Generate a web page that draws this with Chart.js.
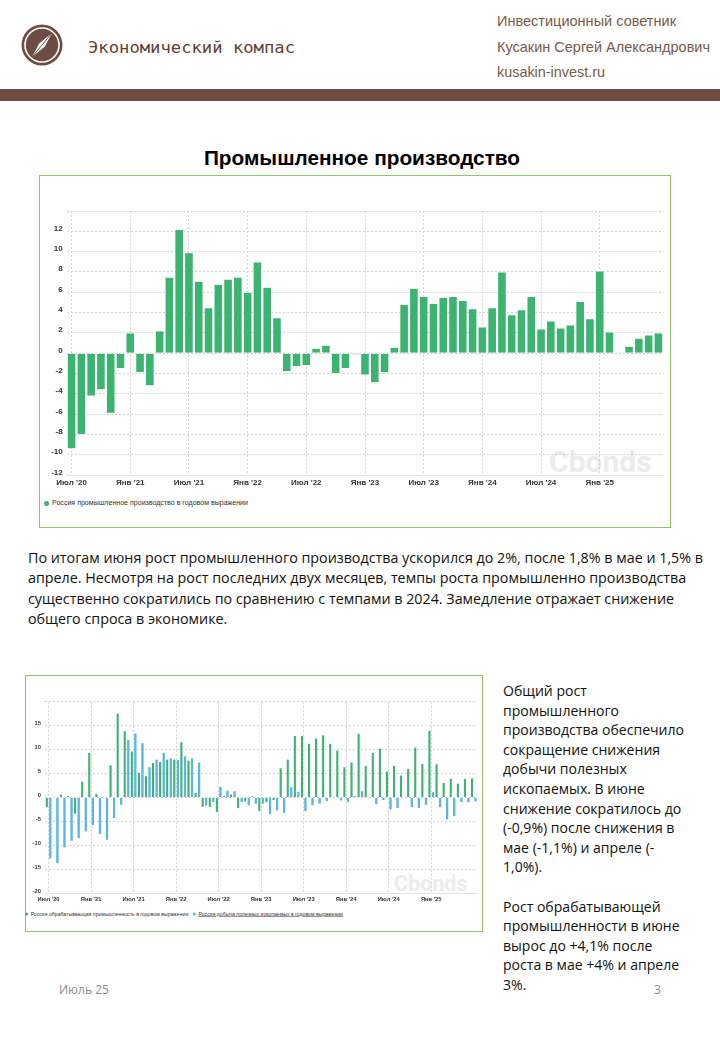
<!DOCTYPE html>
<html lang="ru">
<head>
<meta charset="utf-8">
<title>Промышленное производство</title>
<script src="https://cdn.jsdelivr.net/npm/chart.js@4.4.1/dist/chart.umd.min.js"></script>
<style>
  html, body { margin: 0; padding: 0; background: #fff; }
  body { width: 720px; height: 1040px; position: relative; overflow: hidden;
         font-family: 'Liberation Sans', Arial, sans-serif; }
  .abs { position: absolute; white-space: nowrap; }
  .fit { display: inline-block; transform-origin: 0 50%; }
  .hdr { color: #77594d; font-size: 15px; line-height: 20px; }
  .txt { font-family: 'Open Sans', 'Noto Sans', sans-serif; font-size: 14px; color: #111; transform-origin: 0 0; }
  .txt span { display: block; white-space: nowrap; }
  .box { position: absolute; border: 1.5px solid #8fc46a; box-sizing: border-box; }
  .wrap { position: absolute; z-index: 1; }
  .wm { position: absolute; font-family: Roboto, 'Liberation Sans', sans-serif; font-weight: bold;
        color: #ececec; z-index: 0; line-height: 1; }
  .dot { display: inline-block; border-radius: 50%; vertical-align: middle; }
</style>
</head>
<body>

<svg width="42" height="42" viewBox="0 0 42 42" style="position:absolute;left:21px;top:24px">
  <circle cx="21" cy="21" r="20.5" fill="#6d4c41"/>
  <circle cx="21" cy="21" r="17" fill="none" stroke="#fff" stroke-width="1.6"/>
  <polygon points="31,9 23.8,22.6 11,33 18.2,19.4" fill="#fff"/>
  <line x1="31" y1="9" x2="11" y2="33" stroke="#6d4c41" stroke-width="1"/>
</svg>
<div class="abs" style="left:88px;top:37px;line-height:22px;">
  <span class="fit" data-w="207" style="font-family:'DejaVu Sans Mono',monospace;font-size:16px;color:#5f4137;">Экономический компас</span>
</div>
<div class="abs hdr" style="left:497px;top:11px;"><span class="fit" data-w="179">Инвестиционный советник</span></div>
<div class="abs hdr" style="left:497px;top:37px;"><span class="fit" data-w="213">Кусакин Сергей Александрович</span></div>
<div class="abs hdr" style="left:497px;top:62px;"><span class="fit" data-w="108">kusakin-invest.ru</span></div>
<div class="abs" style="left:0;top:89px;width:720px;height:12px;background:#6d4c41;"></div>

<div class="abs" style="left:2px;top:145px;width:720px;text-align:center;font-weight:bold;font-size:20.8px;line-height:26px;color:#000;">Промышленное производство</div>

<!-- top chart -->
<div class="box" style="left:39px;top:175px;width:632px;height:353px;"></div>
<div class="wm" style="left:549px;top:447px;font-size:30px;">Cbonds</div>
<div class="wrap" style="left:40px;top:177px;width:628px;height:349px;"><canvas id="chartTop"></canvas></div>
<div class="abs" style="left:44px;top:494px;line-height:12px;">
  <span class="fit" data-w="204" data-uniform="1" style="font-size:7px;color:#333;"><span class="dot" style="width:5px;height:5px;background:#3cb371;margin-right:3px;"></span>Россия промышленное производство в годовом выражении</span>
</div>

<div class="abs txt" id="para1" data-ref="0" data-refw="675" style="left:28px;top:548px;line-height:20.3px;">
  <span>По итогам июня рост промышленного производства ускорился до 2%, после 1,8% в мае и 1,5% в</span>
  <span>апреле. Несмотря на рост последних двух месяцев, темпы роста промышленно производства</span>
  <span>существенно сократились по сравнению с темпами в 2024. Замедление отражает снижение</span>
  <span>общего спроса в экономике.</span>
</div>

<!-- bottom chart -->
<div class="box" style="left:25px;top:675px;width:458px;height:257px;"></div>
<div class="wm" style="left:394px;top:873px;font-size:21.5px;">Cbonds</div>
<div class="wrap" style="left:27px;top:677px;width:454px;height:253px;"><canvas id="chartBottom"></canvas></div>
<div class="abs" style="left:25px;top:905px;line-height:14px;">
  <span class="fit" data-w="318" data-uniform="1" style="font-size:10px;color:#333;"><span class="dot" style="width:6px;height:6px;background:#3cb371;margin-right:5px;"></span>Россия обрабатывающая промышленность в годовом выражении<span class="dot" style="width:6px;height:6px;background:#5bb5e6;margin-left:9px;margin-right:5px;"></span><u>Россия добыча полезных ископаемых в годовом выражении</u></span>
</div>

<div class="abs txt" id="para2" data-ref="2" data-refw="181" style="left:503px;top:681px;line-height:19.6px;">
  <span>Общий рост</span>
  <span>промышленного</span>
  <span>производства обеспечило</span>
  <span>сокращение снижения</span>
  <span>добычи полезных</span>
  <span>ископаемых. В июне</span>
  <span>снижение сократилось до</span>
  <span>(-0,9%) после снижения в</span>
  <span>мае (-1,1%) и апреле (-</span>
  <span>1,0%).</span>
  <span>&nbsp;</span>
  <span>Рост обрабатывающей</span>
  <span>промышленности в июне</span>
  <span>вырос до +4,1% после</span>
  <span>роста в мае +4% и апреле</span>
  <span>3%.</span>
</div>

<div class="abs" style="left:59px;top:983px;font-size:12px;line-height:14px;color:#8a8a8a;font-family:'Open Sans',sans-serif;">Июль 25</div>
<div class="abs" style="left:654px;top:983px;font-size:12px;line-height:14px;color:#8a8a8a;font-family:'Open Sans',sans-serif;">3</div>

<script>
// подписи месяцев (по оси Cbonds)
const months = [
  "Июл '20", "Авг '20", "Сен '20", "Окт '20", "Ноя '20", "Дек '20",
  "Янв '21", "Фев '21", "Мар '21", "Апр '21", "Май '21", "Июн '21", "Июл '21", "Авг '21", "Сен '21", "Окт '21", "Ноя '21", "Дек '21",
  "Янв '22", "Фев '22", "Мар '22", "Апр '22", "Май '22", "Июн '22", "Июл '22", "Авг '22", "Сен '22", "Окт '22", "Ноя '22", "Дек '22",
  "Янв '23", "Фев '23", "Мар '23", "Апр '23", "Май '23", "Июн '23", "Июл '23", "Авг '23", "Сен '23", "Окт '23", "Ноя '23", "Дек '23",
  "Янв '24", "Фев '24", "Мар '24", "Апр '24", "Май '24", "Июн '24", "Июл '24", "Авг '24", "Сен '24", "Окт '24", "Ноя '24", "Дек '24",
  "Янв '25", "Фев '25", "Мар '25", "Апр '25", "Май '25", "Июн '25", "Июл '25"
];
const tickLabels = ["Июл '20", "Янв '21", "Июл '21", "Янв '22", "Июл '22", "Янв '23", "Июл '23", "Янв '24", "Июл '24", "Янв '25"];

// промышленное производство, % г/г
const industry = [
  -9.4, -8.0, -4.2, -3.6, -5.9, -1.5, 2.0, -1.9, -3.2, 2.2,
  7.5, 12.2, 9.9, 7.1, 4.5, 6.8, 7.3, 7.5, 6.0, 9.0,
  6.5, 3.5, -1.8, -1.3, -1.2, 0.5, 0.8, -2.0, -1.5, -0.15,
  -2.15, -2.9, -1.9, 0.6, 4.8, 6.4, 5.6, 4.9, 5.5, 5.6,
  5.2, 4.4, 2.6, 4.5, 8.0, 3.8, 4.3, 5.6, 2.4, 3.2,
  2.5, 2.8, 5.1, 3.4, 8.1, 2.1, 0.1, 0.7, 1.5, 1.8, 2.0
];
// обрабатывающая промышленность, % г/г
const manufacturing = [
  -2.1, 0.2, 0.7, 0.4, -3.5, 3.4, 9.4, 0.8, -0.2, 6.8,
  17.6, 13.9, 9.7, 5.2, 4.5, 7.3, 7.5, 8.0, 8.0, 11.6,
  7.8, 1.0, -2.0, -2.1, -3.1, 0.4, 0.7, -2.3, -0.9, 0.3,
  -2.9, -1.1, -0.6, 6.2, 8.0, 12.9, 12.9, 11.3, 12.4, 13.1,
  11.3, 9.9, 6.4, 7.4, 13.4, 6.7, 9.4, 10.3, 5.5, 6.7,
  4.7, 6.1, 10.5, 7.1, 14.0, 7.0, 3.1, 4.0, 3.0, 4.0, 4.1
];
// добыча полезных ископаемых, % г/г
const mining = [
  -12.8, -13.8, -10.5, -9.1, -8.6, -7.2, -5.9, -7.7, -8.9, -4.4,
  -1.6, 12.1, 13.4, 11.4, 6.4, 8.0, 9.4, 8.3, 7.9, 8.7,
  8.3, 7.4, -1.8, -1.0, 2.3, 1.5, 1.4, -1.0, -1.7, -1.4,
  -1.4, -3.6, -2.8, -3.3, 2.2, 1.3, -2.9, -1.7, -1.4, -0.8,
  -0.2, -0.7, -1.0, 0.4, 1.4, 0.1, -1.5, -0.6, -2.6, -2.3,
  0.0, -2.1, -2.3, -1.6, 1.2, -2.1, -4.7, -4.0, -1.0, -1.1, -0.9
];

const green = '#3cb371';
const blue = '#5bb5e6';
const gridColor = '#d2d2d2';
const font = "'Liberation Sans', Arial, sans-serif";

function xAxis(size, height) {
  return {
    type: 'category',
    offset: true,
    grid: {
      offset: false,
      drawTicks: false,
      color: c => tickLabels.includes(months[c.index]) ? gridColor : 'rgba(0,0,0,0)'
    },
    border: { display: true, color: '#e4e4e4', dash: [2, 2] },
    ticks: {
      autoSkip: false, maxRotation: 0, padding: 3, color: '#333',
      font: { family: font, size: size, weight: 'bold' },
      callback: (v, i) => tickLabels.includes(months[i]) ? months[i] : ''
    },
    afterFit: s => { s.height = height; }
  };
}

function yAxis(min, max, step, size, width, offset) {
  return {
    min: min, max: max,
    grid: { color: gridColor, drawTicks: false },
    border: { display: false, dash: [2, 2] },
    ticks: {
      stepSize: step, padding: 4, labelOffset: offset, color: '#333',
      font: { family: font, size: size, weight: 'bold' },
      callback: v => v === max ? '' : v
    },
    afterFit: s => { s.width = width; }
  };
}

new Chart(document.getElementById('chartTop'), {
  type: 'bar',
  data: {
    labels: months,
    datasets: [{
      label: 'Россия промышленное производство в годовом выражении',
      data: industry,
      backgroundColor: green,
      borderColor: 'rgba(255,255,255,0.55)',
      borderWidth: 0.6,
      barPercentage: 0.9,
      categoryPercentage: 1
    }]
  },
  options: {
    responsive: true,
    maintainAspectRatio: false,
    animation: false,
    layout: { padding: { left: 0, right: 4.7, top: 34, bottom: 30.7 } },
    plugins: { legend: { display: false }, tooltip: { enabled: false } },
    scales: {
      x: xAxis(8, 20),
      y: yAxis(-12, 14, 2, 8, 26.7, -3)
    }
  }
});

new Chart(document.getElementById('chartBottom'), {
  type: 'bar',
  data: {
    labels: months,
    datasets: [{
      label: 'Россия обрабатывающая промышленность в годовом выражении',
      data: manufacturing,
      backgroundColor: green,
      borderColor: 'rgba(255,255,255,0.5)',
      borderWidth: 0.4,
      barPercentage: 0.84,
      categoryPercentage: 1
    }, {
      label: 'Россия добыча полезных ископаемых в годовом выражении',
      data: mining,
      backgroundColor: blue,
      borderColor: 'rgba(255,255,255,0.5)',
      borderWidth: 0.4,
      barPercentage: 0.9,
      categoryPercentage: 1
    }]
  },
  options: {
    responsive: true,
    maintainAspectRatio: false,
    animation: false,
    layout: { padding: { left: 0, right: 3.7, top: 24.7, bottom: 24.7 } },
    plugins: { legend: { display: false }, tooltip: { enabled: false } },
    scales: {
      x: xAxis(5.8, 12),
      y: yAxis(-20, 20, 5, 5.8, 18, -2.2)
    }
  }
});

// подгонка ширины текстов под макет
document.querySelectorAll('[data-w]').forEach(el => {
  const w = el.getBoundingClientRect().width;
  const s = +el.dataset.w / w;
  el.style.transform = el.dataset.uniform ? 'scale(' + s + ')' : 'scaleX(' + s + ')';
});
['para1', 'para2'].forEach(id => {
  const block = document.getElementById(id);
  const line = block.children[+block.dataset.ref];
  const r = document.createRange();
  r.selectNodeContents(line);
  const w = r.getBoundingClientRect().width;
  block.style.transform = 'scaleX(' + (+block.dataset.refw / w) + ')';
});
</script>
</body>
</html>
